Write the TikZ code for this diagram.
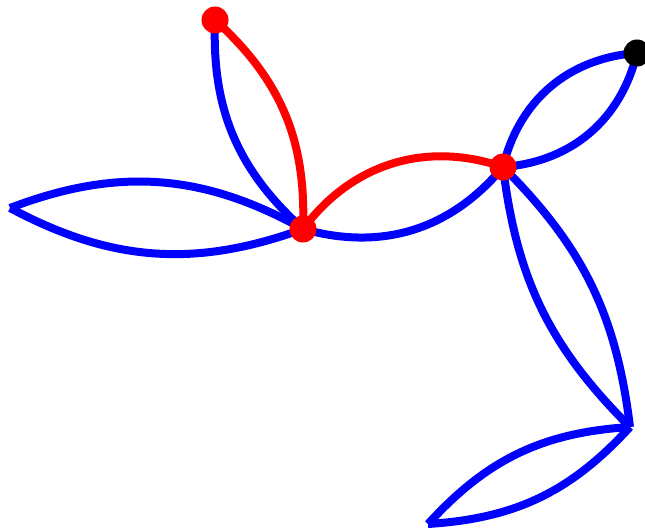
\documentclass[tikz,border=0pt]{standalone}
\usepackage{tikz}
\tikzset{
  blueedge/.style={
    draw = blue,
    line width = 8pt,
    line cap = butt
  },
  rededge/.style={
    draw = red,
    line width = 8pt,
    line cap = butt
  },
  vertex/.style={
    inner sep = 0pt,
    minimum size = 27pt,
    shape = circle,
    fill = red
  },
  endvertex/.style={
    vertex,
    fill = black
  }
}

\begin{document}
\begin{tikzpicture}[x=1pt,y=-1pt]
        \useasboundingbox (0,0) rectangle (645,532);
        \coordinate (top) at (215,20);
        \coordinate (mid) at (303,229);
        \coordinate (hub) at (503,167);
        \coordinate (corner) at (637,53);
        \coordinate (west) at (10,208);
        \coordinate (south) at (630,427);
        \coordinate (foot) at (428,524);
        % blue lenses
        \draw[blueedge] (top) to[bend right=25] (mid);
        \draw[blueedge] (west) to[bend left=25] (mid);
        \draw[blueedge] (west) to[bend right=24] (mid);
        \draw[blueedge] (mid) to[bend right=33] (hub);
        \draw[blueedge] (hub) to[bend left=36] (corner);
        \draw[blueedge] (hub) to[bend right=36] (corner);
        \draw[blueedge] (hub) to[bend left=19] (south);
        \draw[blueedge] (hub) to[bend right=19] (south);
        \draw[blueedge] (south) to[bend left=22] (foot);
        \draw[blueedge] (south) to[bend right=22] (foot);
        % red path
        \draw[rededge] (top) to[bend left=25] (mid);
        \draw[rededge] (mid) to[bend left=36] (hub);
        % vertices
        \node[vertex] (v1) at (top) {};
        \node[vertex] (v2) at (mid) {};
        \node[vertex] (v3) at (hub) {};
        \node[endvertex] (v4) at (corner) {};
    \end{tikzpicture}
\end{document}
